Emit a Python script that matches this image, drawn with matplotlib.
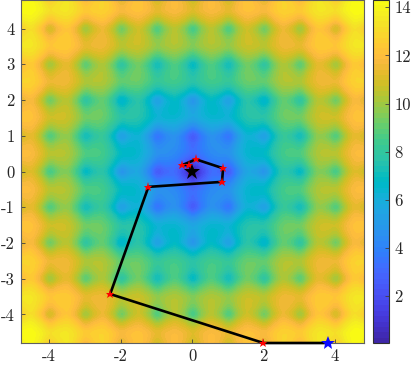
import numpy as np
import matplotlib
matplotlib.use("Agg")
import matplotlib.pyplot as plt
from matplotlib.colors import ListedColormap

# surface read at 0.25 steps on the quadrant x>=0, y>=0; the picture is symmetric,
# so each row k lists y index j = k...20 at x index k
rows = [
 [0.05,1.76,3.09,3.08,2.64,4.31,5.54,5.45,4.93,6.52,7.68,7.51,6.92,8.44,9.53,9.30,8.64,10.11,11.14,10.85,10.14],
 [2.69,3.63,3.83,3.78,5.02,5.98,6.14,6.03,7.20,8.09,8.18,8.01,9.11,9.94,9.96,9.72,10.77,11.54,11.51,11.22],
 [4.25,4.50,4.64,5.57,6.35,6.64,6.78,7.67,8.40,8.64,8.71,9.55,10.22,10.39,10.41,11.19,11.81,11.93,11.89],
 [4.51,4.31,5.44,6.33,6.44,6.28,7.42,8.28,8.35,8.16,9.24,10.05,10.07,9.82,10.86,11.62,11.58,11.29],
 [3.62,5.12,6.22,6.03,5.42,6.95,8.05,7.85,7.21,8.70,9.77,9.52,8.84,10.29,11.30,11.00,10.27],
 [6.14,6.94,6.98,6.74,7.82,8.64,8.68,8.44,9.50,10.28,10.28,10.02,11.03,11.78,11.73,11.42],
 [7.53,7.67,7.68,8.46,9.11,9.27,9.27,10.05,10.68,10.81,10.79,11.54,12.12,12.22,12.16],
 [7.63,7.33,8.35,9.12,9.11,8.83,9.85,10.61,10.58,10.29,11.28,12.00,11.94,11.61],
 [6.59,8.01,9.00,8.70,7.99,9.41,10.41,10.11,9.38,10.77,11.75,11.42,10.66],
 [8.97,9.68,9.62,9.30,10.28,11.01,10.95,10.62,11.58,12.29,12.21,11.86],
 [10.22,10.28,10.21,10.91,11.47,11.54,11.45,12.15,12.69,12.75,12.65],
 [10.18,9.82,10.77,11.46,11.36,11.00,11.94,12.62,12.52,12.14],
 [9.03,10.37,11.30,10.93,10.14,11.48,12.42,12.03,11.23],
 [11.28,11.93,11.81,11.42,12.33,12.99,12.86,12.46],
 [12.42,12.43,12.29,12.93,13.42,13.43,13.28],
 [12.27,11.86,12.74,13.37,13.22,12.81],
 [11.01,12.31,13.18,12.76,11.91],
 [13.17,13.78,13.60,13.16],
 [14.22,14.18,13.99],
 [13.98,13.53],
 [12.64],
]

# search path
path_x = [3.80, 2.00, -2.29, -1.22, 0.84, 0.87, 0.11, -0.27, -0.08, -0.02]
path_y = [-4.80, -4.80, -3.43, -0.43, -0.29, 0.09, 0.34, 0.18, 0.18, 0.05]
optimum = (0.0, 0.0)

x_ticks = [-4, -2, 0, 2, 4]
y_ticks = [-4, -3, -2, -1, 0, 1, 2, 3, 4]
cbar_ticks = [2, 4, 6, 8, 10, 12, 14]

parula = ListedColormap([
    (0.2422,0.1504,0.6603),(0.2504,0.1650,0.7076),(0.2578,0.1818,0.7511),(0.2647,0.1978,0.7952),
    (0.2706,0.2147,0.8364),(0.2751,0.2342,0.8710),(0.2783,0.2559,0.8991),(0.2803,0.2782,0.9221),
    (0.2813,0.3006,0.9414),(0.2810,0.3228,0.9579),(0.2795,0.3447,0.9717),(0.2760,0.3667,0.9829),
    (0.2699,0.3892,0.9906),(0.2602,0.4123,0.9952),(0.2440,0.4358,0.9988),(0.2206,0.4603,0.9973),
    (0.1963,0.4847,0.9892),(0.1834,0.5074,0.9798),(0.1786,0.5289,0.9682),(0.1764,0.5499,0.9520),
    (0.1687,0.5703,0.9359),(0.1540,0.5902,0.9218),(0.1460,0.6091,0.9079),(0.1380,0.6276,0.8973),
    (0.1248,0.6459,0.8883),(0.1113,0.6635,0.8763),(0.0952,0.6798,0.8598),(0.0689,0.6948,0.8394),
    (0.0297,0.7082,0.8163),(0.0036,0.7203,0.7917),(0.0067,0.7312,0.7660),(0.0433,0.7411,0.7394),
    (0.0964,0.7500,0.7120),(0.1408,0.7584,0.6842),(0.1717,0.7670,0.6554),(0.1938,0.7758,0.6251),
    (0.2161,0.7843,0.5923),(0.2470,0.7918,0.5567),(0.2906,0.7973,0.5188),(0.3406,0.8008,0.4789),
    (0.3909,0.8029,0.4354),(0.4456,0.8024,0.3909),(0.5044,0.7993,0.3480),(0.5616,0.7942,0.3045),
    (0.6174,0.7876,0.2612),(0.6720,0.7793,0.2227),(0.7242,0.7698,0.1910),(0.7738,0.7598,0.1646),
    (0.8203,0.7498,0.1535),(0.8634,0.7406,0.1596),(0.9035,0.7330,0.1774),(0.9393,0.7288,0.2100),
    (0.9728,0.7298,0.2394),(0.9956,0.7434,0.2371),(0.9970,0.7659,0.2199),(0.9952,0.7893,0.2028),
    (0.9892,0.8136,0.1885),(0.9786,0.8386,0.1766),(0.9676,0.8639,0.1643),(0.9610,0.8890,0.1537),
    (0.9597,0.9135,0.1423),(0.9628,0.9373,0.1265),(0.9691,0.9606,0.1064),(0.9769,0.9839,0.0805)])

n = len(rows)
quadrant = np.zeros((n, n))
for k, r in enumerate(rows):
    quadrant[k, k:] = r
    quadrant[k:, k] = r
right = np.hstack([quadrant[:, :0:-1], quadrant])
field = np.vstack([right[:0:-1], right])

plt.rcParams["font.family"] = "cmr10"
plt.rcParams["axes.unicode_minus"] = False

W, H = 411, 365
fig = plt.figure(figsize=(W / 100, H / 100), dpi=100)
ax = fig.add_axes([20.5 / W, 1 - 343 / H, 343 / W, 343 / H])
im = ax.imshow(field, origin="lower", extent=[-5.125, 5.125, -5.125, 5.125], cmap=parula,
               vmin=0.05, vmax=14.3, interpolation="catrom", aspect="auto")
ax.set_xlim(-4.8, 4.8)
ax.set_ylim(-4.8, 4.8)
ax.plot(path_x, path_y, color="black", lw=1.9, zorder=3, clip_on=False, solid_capstyle="round")
ax.plot(path_x[1:], path_y[1:], ls="none", marker="*", color="red", ms=6.5, mew=0, zorder=4, clip_on=False)
ax.plot(path_x[0], path_y[0], ls="none", marker="*", color="#0a0aff", ms=10, mew=0, zorder=5, clip_on=False)
ax.plot(*optimum, ls="none", marker="*", color="black", ms=12, mew=0, zorder=6)

ax.set_xticks(x_ticks, [str(v) for v in x_ticks])
ax.set_yticks(y_ticks, [str(v) for v in y_ticks])
ax.tick_params(direction="in", length=3, width=0.6, color="#404040", labelcolor="#262626",
               labelsize=12, pad=4, top=False, right=False)
for s in ax.spines.values():
    s.set_linewidth(0.8)
    s.set_color("#606060")

cax = fig.add_axes([373 / W, 1 - 343 / H, 16 / W, 343 / H])
cb = fig.colorbar(im, cax=cax)
cb.set_ticks(cbar_ticks, labels=[str(v) for v in cbar_ticks])
cax.tick_params(direction="in", length=3, width=0.6, color="#404040", labelcolor="#262626",
                labelsize=12, pad=4)
cb.outline.set_linewidth(0.8)
cb.outline.set_edgecolor("#303030")

fig.savefig("out.png", dpi=100)
